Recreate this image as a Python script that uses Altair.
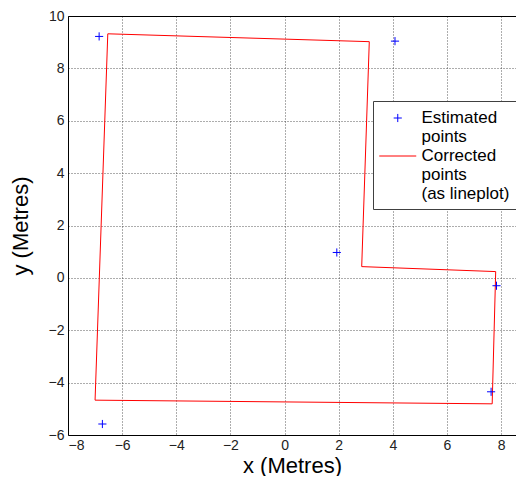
import altair as alt
import pandas as pd

# Estimated points (blue +)
est_x = [-6.85, 4.08, 1.93, 7.83, 7.63, -6.73]
est_y = [9.22, 9.04, 0.97, -0.30, -4.35, -5.58]

# Corrected points (red line)
cor_x = [-6.53, 3.13, 2.85, 7.80, 7.67, -7.00, -6.53]
cor_y = [9.32, 9.02, 0.43, 0.24, -4.81, -4.67, 9.32]

x_ticks = [-8, -6, -4, -2, 0, 2, 4, 6, 8]
y_ticks = [-6, -4, -2, 0, 2, 4, 6, 8, 10]

EST = "Estimated|points"
COR = "Corrected|points|(as lineplot)"
series_domain = [EST, COR]

est_df = pd.DataFrame({"x": est_x, "y": est_y, "series": EST})
cor_df = pd.DataFrame({"x": cor_x, "y": cor_y, "order": list(range(len(cor_x))), "series": COR})

FONT = "Liberation Sans"
PLUS = "M-0.44,0H0.44M0,-0.44V0.44"
DASH = "M-2,0H2"
SYM = 342

xscale = alt.Scale(domain=[-8, 8.55], nice=False, zero=False)
yscale = alt.Scale(domain=[-6, 10], nice=False, zero=False)

legend = alt.Legend(
    title=None, orient="none", legendX=305, legendY=85, direction="vertical",
    labelExpr="split(datum.label, '|')", labelFont=FONT, labelFontSize=17,
    labelColor="black", labelLimit=300, labelOffset=13.75, symbolOffset=7.75,
    padding=7, strokeColor="#404040", fillColor="white", cornerRadius=0,
    rowPadding=1, symbolStrokeWidth=1, symbolSize=SYM,
)

color = alt.Color("series:N", scale=alt.Scale(domain=series_domain, range=["#0000FF", "#FF0000"]), legend=legend)
shape = alt.Shape("series:N", scale=alt.Scale(domain=series_domain, range=[PLUS, DASH]), legend=legend)

x_axis_bottom = alt.Axis(values=x_ticks, title="x (Metres)", grid=True, labelPadding=3, titlePadding=3)
x_axis_top = alt.Axis(orient="top", labels=False, ticks=False, grid=False, title=None, domainColor="black")
y_axis = alt.Axis(values=y_ticks, title="y (Metres)", grid=True, labelPadding=4, titlePadding=16)

points = alt.Chart(est_df).mark_point(filled=False, strokeWidth=1, size=SYM, opacity=1).encode(
    x=alt.X("x:Q", scale=xscale, axis=x_axis_bottom),
    y=alt.Y("y:Q", scale=yscale, axis=y_axis),
    color=color,
    shape=shape,
)

line = alt.Chart(cor_df).mark_line(strokeWidth=1).encode(
    x=alt.X("x:Q", scale=xscale, axis=x_axis_top),
    y=alt.Y("y:Q", scale=yscale, axis=y_axis),
    order="order:Q",
    color=color,
)

chart = alt.layer(line, points).resolve_axis(x="independent").properties(
    width=508, height=468,
    autosize=alt.AutoSizeParams(type="fit", contains="padding"),
    padding={"left": 1, "top": 1, "right": 0, "bottom": 0},
).configure_view(stroke=None).configure_axis(
    domainColor="black", domainWidth=1, ticks=False, tickSize=0,
    labelFont=FONT, labelFontSize=14, labelColor="#222222",
    titleFont=FONT, titleFontSize=22, titleFontWeight="normal", titleColor="black",
    gridColor="#333333", gridDash=[1, 2], gridWidth=1, gridOpacity=0.8,
)

chart.save("out.html", embed_options={"renderer": "svg", "actions": False})
